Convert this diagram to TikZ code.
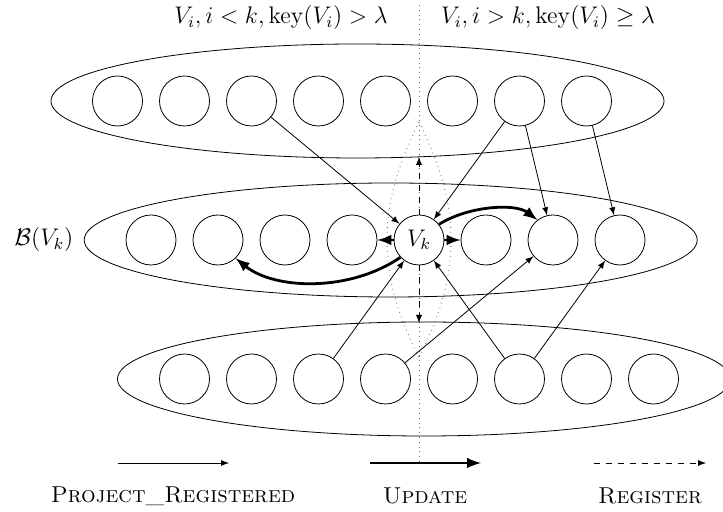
\documentclass[tikz,border=0pt]{standalone}
\usetikzlibrary{shapes.geometric,arrows}
\begin{document}
\begin{tikzpicture}[x=0.5pt,y=-0.5pt,
  every node/.style={font=\fontsize{11.5}{14}\selectfont},
  grp/.style={draw,ellipse,minimum width=306.5pt,minimum height=57pt,inner sep=0pt},
  vert/.style={draw,fill=white,circle,minimum size=25pt,inner sep=0pt},
  pr/.style={-latex},
  upd/.style={-latex,line width=1.4pt},
  reg/.style={-latex,dashed},
  guide/.style={dotted,black!60}]
\useasboundingbox (0,0) rectangle (723,512);
% dotted guide line
\coordinate (gtop) at (419,5);
\coordinate (gbot) at (419,462);
\draw[guide] (gtop) -- (gbot);
% groups
\node[grp] (E1) at (357.5,101) {};
\node[grp] (E2) at (390.7,240) {};
\node[grp] (E3) at (424,379) {};
% dotted lens
\coordinate (ta) at (419,122);
\coordinate (ba) at (419,358);
\draw[guide] (ta) .. controls (398,165) and (387,200) .. (387,240) .. controls (387,280) and (398,315) .. (ba);
\draw[guide] (ta) .. controls (440,165) and (451,200) .. (451,240) .. controls (451,280) and (440,315) .. (ba);
% vertices
\foreach \i in {1,...,8}{
  \node[vert] (t\i) at ({117.5+67*(\i-1)},101) {};
  \node[vert] (b\i) at ({184.5+67*(\i-1)},379) {};
}
\foreach \i in {1,2,3,4,6,7,8}{
  \node[vert] (m\i) at ({151+67*(\i-1)},240) {};
}
\node[vert] (Vk) at (419,240) {$V_k$};
% labels
\node (lt1) at (281,18) {$V_i, i<k, \mathrm{key}(V_i) > \lambda$};
\node (lt2) at (548,18) {$V_i, i>k, \mathrm{key}(V_i) \geq \lambda$};
\node (lb) at (44,240) {$\mathcal{B}(V_k)$};
% register
\coordinate (rt) at (419,157);
\coordinate (rb) at (419,323);
\draw[reg] (Vk) -- (rt);
\draw[reg] (Vk) -- (rb);
% project registered
\draw[pr] (t3) -- (Vk);
\draw[pr] (t7) -- (Vk);
\draw[pr] (t7) -- (m7);
\draw[pr] (t8) -- (m8);
\draw[pr] (b3) -- (Vk);
\draw[pr] (b6) -- (Vk);
\draw[pr] (b4) -- (m7);
\draw[pr] (b6) -- (m8);
% update
\draw[upd] (Vk) -- (m4);
\draw[upd] (Vk) -- (m6);
\draw[upd] (Vk.223) .. controls (350,292) and (275,290) .. (m2.-46);
\draw[upd] (Vk.38) .. controls (468,206) and (515,203) .. (m7.128);
% legend
\coordinate (l1a) at (118,463); \coordinate (l1b) at (229,463);
\coordinate (l2a) at (370,463); \coordinate (l2b) at (481,463);
\coordinate (l3a) at (594,463); \coordinate (l3b) at (706,463);
\draw[pr] (l1a) -- (l1b);
\draw[upd] (l2a) -- (l2b);
\draw[reg] (l3a) -- (l3b);
\node (n1) at (173,496) {\textsc{Project\_Registered}};
\node (n2) at (425,496) {\textsc{Update}};
\node (n3) at (650,496) {\textsc{Register}};
\end{tikzpicture}
\end{document}
